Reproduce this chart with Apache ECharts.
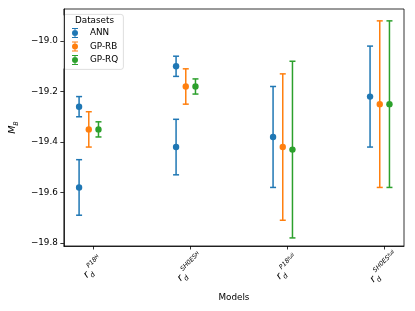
<!DOCTYPE html>
<html>
<head>
<meta charset="utf-8">
<script src="https://cdn.jsdelivr.net/npm/echarts@6/dist/echarts.min.js"></script>
<style>
html,body{margin:0;padding:0;background:#fff;}
#chart{width:415px;height:311px;}
</style>
</head>
<body>
<div id="chart"></div>
<script>
// ---- data ----
const categories = ['P18_H', 'SH0ES_H', 'P18_full', 'SH0ES_full'];
const labelSup = ['P18', 'SH0ES', 'P18', 'SH0ES'];
const labelSupSub = ['H', 'H', 'full', 'full'];
const yTicks = [-19.8, -19.6, -19.4, -19.2, -19.0];
const seriesNames = ['ANN', 'GP-RB', 'GP-RQ'];

const annMeanA = [-19.26, -19.10, -19.38, -19.22];
const annErrA  = [0.04, 0.04, 0.20, 0.20];
const annMeanB = [-19.58, -19.42, null, null];
const annErrB  = [0.11, 0.11, null, null];
const rbMean   = [-19.35, -19.18, -19.42, -19.25];
const rbErr    = [0.07, 0.07, 0.29, 0.33];
const rqMean   = [-19.35, -19.18, -19.43, -19.25];
const rqErr    = [0.03, 0.03, 0.35, 0.33];

// ---- styling ----
const colors = {'ANN': '#1f77b4', 'GP-RB': '#ff7f0e', 'GP-RQ': '#2ca02c'};
const offsets = {'ANN': -0.15, 'GP-RB': -0.05, 'GP-RQ': 0.05};
const FONT = 'DejaVu Sans';

function build(means, errs, name) {
  const out = [];
  means.forEach((m, i) => {
    if (m !== null) out.push([i + offsets[name], m, errs[i]]);
  });
  return out;
}

function errSeries(name, data) {
  const color = colors[name];
  return {
    type: 'custom',
    name: name,
    itemStyle: {color: color},
    data: data,
    encode: {x: 0, y: 1},
    renderItem: function (params, api) {
      const x = api.value(0), y = api.value(1), e = api.value(2);
      const c = api.coord([x, y]);
      const t = api.coord([x, y + e]);
      const b = api.coord([x, y - e]);
      const cap = 3;
      const ls = {stroke: color, lineWidth: 1.5, fill: null};
      return {
        type: 'group',
        children: [
          {type: 'line', shape: {x1: c[0], y1: t[1], x2: c[0], y2: b[1]}, style: ls},
          {type: 'line', shape: {x1: c[0] - cap, y1: t[1], x2: c[0] + cap, y2: t[1]}, style: ls},
          {type: 'line', shape: {x1: c[0] - cap, y1: b[1], x2: c[0] + cap, y2: b[1]}, style: ls},
          {type: 'circle', shape: {cx: c[0], cy: c[1], r: 3.2}, style: {fill: color}}
        ]
      };
    }
  };
}

const icon = 'path://M0 0H6V1H0Z M2.5 0H3.5V10H2.5Z M0 9H6V10H0Z M3 2A3 3 0 1 1 3 8A3 3 0 1 1 3 2Z';

const chart = echarts.init(document.getElementById('chart'), null, {renderer: 'canvas'});
chart.setOption({
  backgroundColor: '#fff',
  animation: false,
  textStyle: {fontFamily: FONT},
  grid: {left: 58, right: 11, top: 9, bottom: 65, show: true, borderColor: '#000', borderWidth: 0.8},
  xAxis: {
    type: 'value',
    min: -0.307,
    max: 3.2,
    name: 'Models',
    nameLocation: 'middle',
    nameGap: 40,
    nameTextStyle: {fontSize: 8.8, color: '#000', fontFamily: FONT},
    axisLine: {show: true, onZero: false, lineStyle: {color: '#000', width: 0.8}},
    splitLine: {show: false},
    axisTick: {show: true, length: 3.5, lineStyle: {color: '#000', width: 0.8}, customValues: [0, 1, 2, 3]},
    axisLabel: {
      customValues: [0, 1, 2, 3],
      rotate: 45,
      align: 'center',
      verticalAlign: 'middle',
      margin: 22,
      color: '#000',
      formatter: function (v) {
        const i = Math.round(v);
        return '{r|r}{d|d}{s|' + labelSup[i] + '}{ss|' + labelSupSub[i] + '}';
      },
      rich: {
        r: {fontSize: 10, fontStyle: 'italic', fontFamily: FONT, lineHeight: 16, color: '#000'},
        d: {fontSize: 7, fontStyle: 'italic', fontFamily: FONT, verticalAlign: 'bottom', lineHeight: 9, color: '#000'},
        s: {fontSize: 6.3, fontStyle: 'italic', fontFamily: FONT, verticalAlign: 'top', lineHeight: 8, color: '#000'},
        ss: {fontSize: 4.8, fontStyle: 'italic', fontFamily: FONT, verticalAlign: 'top', lineHeight: 11, color: '#000'}
      }
    }
  },
  yAxis: {
    type: 'value',
    min: -19.812,
    max: -18.873,
    name: '{m|M}{b|B}',
    nameLocation: 'middle',
    nameGap: 37,
    nameTextStyle: {
      rich: {
        m: {fontSize: 9.5, fontStyle: 'italic', fontFamily: FONT, color: '#000', lineHeight: 14},
        b: {fontSize: 6.5, fontStyle: 'italic', fontFamily: FONT, color: '#000', verticalAlign: 'bottom', lineHeight: 9}
      }
    },
    axisLine: {show: true, onZero: false, lineStyle: {color: '#000', width: 0.8}},
    splitLine: {show: false},
    axisTick: {show: true, length: 3.5, lineStyle: {color: '#000', width: 0.8}, customValues: yTicks},
    axisLabel: {
      customValues: yTicks,
      margin: 6,
      fontSize: 8.8,
      color: '#000',
      fontFamily: FONT,
      formatter: function (v) { return (v < 0 ? '\u2212' : '') + Math.abs(v).toFixed(1); }
    }
  },
  legend: {
    orient: 'vertical',
    left: 72,
    top: 28,
    itemWidth: 6,
    itemHeight: 10,
    itemGap: 3.5,
    padding: 0,
    data: seriesNames.map(n => ({name: n, icon: icon})),
    textStyle: {fontSize: 8.8, color: '#000', fontFamily: FONT, padding: [0, 0, 0, 7]}
  },
  graphic: [
    {type: 'rect', left: 63, top: 14, z: 0, shape: {width: 60, height: 55, r: 2.5},
     style: {fill: 'rgba(255,255,255,0.8)', stroke: '#d6d6d6', lineWidth: 0.8}},
    {type: 'text', left: 'center', top: 16, x: 0, z: 1,
     style: {text: 'Datasets', fontSize: 8.8, fontFamily: FONT, fill: '#000'}, left: 75}
  ],
  series: [
    errSeries('ANN', build(annMeanA, annErrA, 'ANN')),
    errSeries('ANN', build(annMeanB, annErrB, 'ANN')),
    errSeries('GP-RB', build(rbMean, rbErr, 'GP-RB')),
    errSeries('GP-RQ', build(rqMean, rqErr, 'GP-RQ'))
  ]
});
</script>
</body>
</html>
